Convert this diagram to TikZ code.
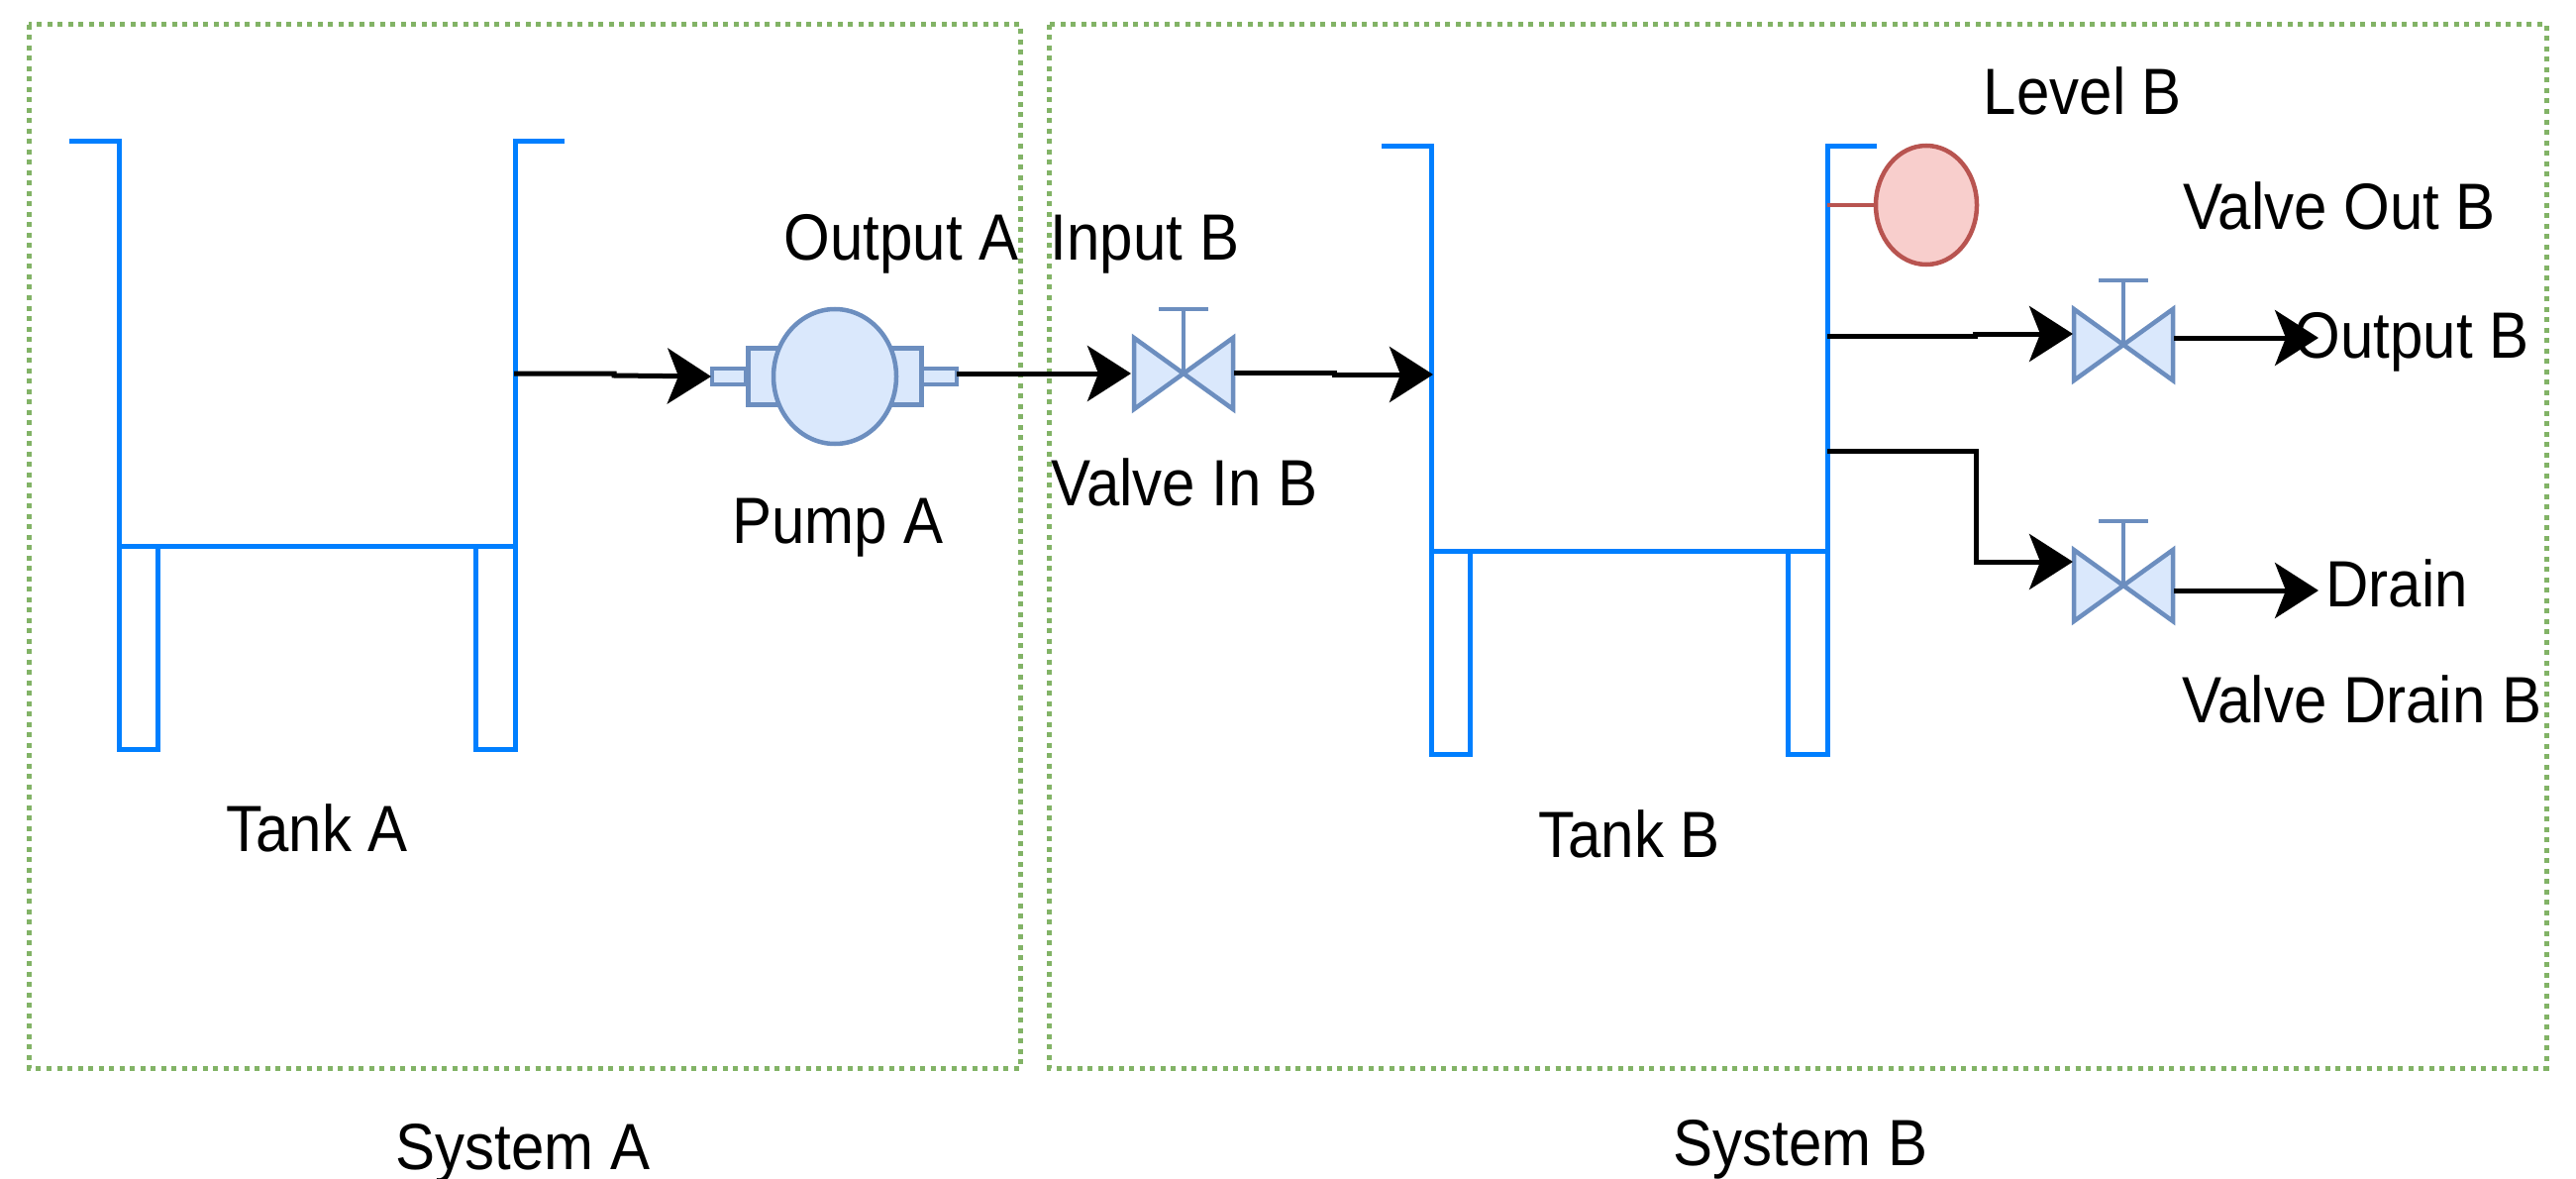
\documentclass[tikz,border=0pt]{standalone}
\usepackage{fontspec}
\setmainfont{Liberation Sans}
\usetikzlibrary{arrows.meta,shapes.geometric}
\definecolor{tankblue}{HTML}{007FFF}
\definecolor{groupgreen}{HTML}{82B366}
\definecolor{partfill}{HTML}{DAE8FC}
\definecolor{partline}{HTML}{6C8EBF}
\definecolor{sensorfill}{HTML}{F8CECC}
\definecolor{sensorline}{HTML}{B85450}
\newcommand{\lbl}[1]{\scalebox{1}[1.1]{#1}}
\tikzset{
  x=1pt,y=-1pt,
  groupbox/.style={draw=groupgreen,line width=5pt,dash pattern=on 5pt off 5.5pt},
  tankline/.style={draw=tankblue,line width=5pt,line join=miter},
  partshape/.style={draw=partline,fill=partfill,line width=4.5pt,line join=miter},
  partstem/.style={draw=partline,line width=4.5pt},
  flow/.style={draw=black,line width=5pt,line join=miter,
    -{Stealth[length=44pt,width=56pt,inset=11pt]}},
  label/.style={font=\fontsize{60}{60}\selectfont,inner sep=0pt,anchor=base,text=black},
  tank/.pic={
    \draw[tankline] (-50,0) -- (0,0) -- (0,613) -- (39,613) -- (39,408);
    \draw[tankline] (450,0) -- (400,0) -- (400,613) -- (360,613) -- (360,408);
    \draw[tankline] (0,408) -- (400,408);
  },
  valve/.pic={
    \draw[partshape] (-50,-36) -- (50,36) -- (50,-36) -- (-50,36) -- cycle;
    \draw[partstem] (0,0) -- (0,-65);
    \draw[partstem] (-25,-65) -- (25,-65);
  },
}
\begin{document}
\begin{tikzpicture}
\useasboundingbox (0,0) rectangle (2601,1190);
\fill[white] (0,0) rectangle (2601,1190);

% system groups
\draw[groupbox] (29,25) rectangle (1030,1078);
\draw[groupbox] (1059,25) rectangle (2571,1078);

% tanks
\pic (tanka) at (120,143) {tank};
\pic (tankb) at (1445,148) {tank};

% pump
\node[partshape,draw,inner sep=0pt,minimum width=34pt,minimum height=16pt] (portl) at (736,380) {};
\node[partshape,draw,inner sep=0pt,minimum width=36pt,minimum height=16pt] (portr) at (948,380) {};
\node[partshape,draw,inner sep=0pt,minimum width=175pt,minimum height=57pt] (pumpbase) at (843,380) {};
\node[partshape,ellipse,inner sep=0pt,minimum width=124pt,minimum height=136pt] (pump) at (843,380) {};

% valves
\pic (valvein) at (1195,377) {valve};
\pic (valveout) at (2144,348) {valve};
\pic (valvedrain) at (2144,591) {valve};

% level sensor
\node[draw=sensorline,fill=sensorfill,line width=4.5pt,ellipse,inner sep=0pt,minimum width=102pt,minimum height=120pt] (level) at (1945,207) {};
\coordinate (levelroot) at (1845,207);
\draw[draw=sensorline,line width=4.5pt] (levelroot) -- (level.west);

% connector ends
\coordinate (aout) at (519,377);
\coordinate (k1) at (620,379);
\coordinate (pumpin) at (718,380);
\coordinate (pumpout) at (966,377);
\coordinate (vinin) at (1142,377);
\coordinate (vinout) at (1246,376);
\coordinate (k2) at (1347,378);
\coordinate (bin) at (1447,378);
\coordinate (bout1) at (1845,339);
\coordinate (k3) at (1994,337);
\coordinate (voutin) at (2093,337);
\coordinate (voutout) at (2195,341);
\coordinate (outb) at (2341,341);
\coordinate (bout2) at (1845,455);
\coordinate (k4) at (1995,567);
\coordinate (vdin) at (2093,567);
\coordinate (vdout) at (2195,596);
\coordinate (drainpt) at (2341,596);

% labels
\node[label] (ta) at (320,859) {\lbl{Tank A}};
\node[label] (oa) at (910,263) {\lbl{Output A}};
\node[label] (ib) at (1156,263) {\lbl{Input B}};
\node[label] (pa) at (846,548) {\lbl{Pump A}};
\node[label] (vib) at (1196,510) {\lbl{Valve In B}};
\node[label] (tb) at (1645,865) {\lbl{Tank B}};
\node[label] (lb) at (2103,116) {\lbl{Level B}};
\node[label] (vob) at (2362,232) {\lbl{Valve Out B}};
\node[label] (ob) at (2435,361) {\lbl{Output B}};
\node[label] (dr) at (2420,612) {\lbl{Drain}};
\node[label] (vdb) at (2385,729) {\lbl{Valve Drain B}};
\node[label] (sa) at (528,1180) {\lbl{System A}};
\node[label] (sb) at (1818,1176) {\lbl{System B}};

% connectors
\draw[flow] (aout) -| (k1) -- (pumpin);
\draw[flow] (pumpout) -- (vinin);
\draw[flow] (vinout) -| (k2) -- (bin);
\draw[flow] (bout1) -| (k3) -- (voutin);
\draw[flow] (voutout) -- (outb);
\draw[flow] (bout2) -| (k4) -- (vdin);
\draw[flow] (vdout) -- (drainpt);
\end{tikzpicture}
\end{document}
